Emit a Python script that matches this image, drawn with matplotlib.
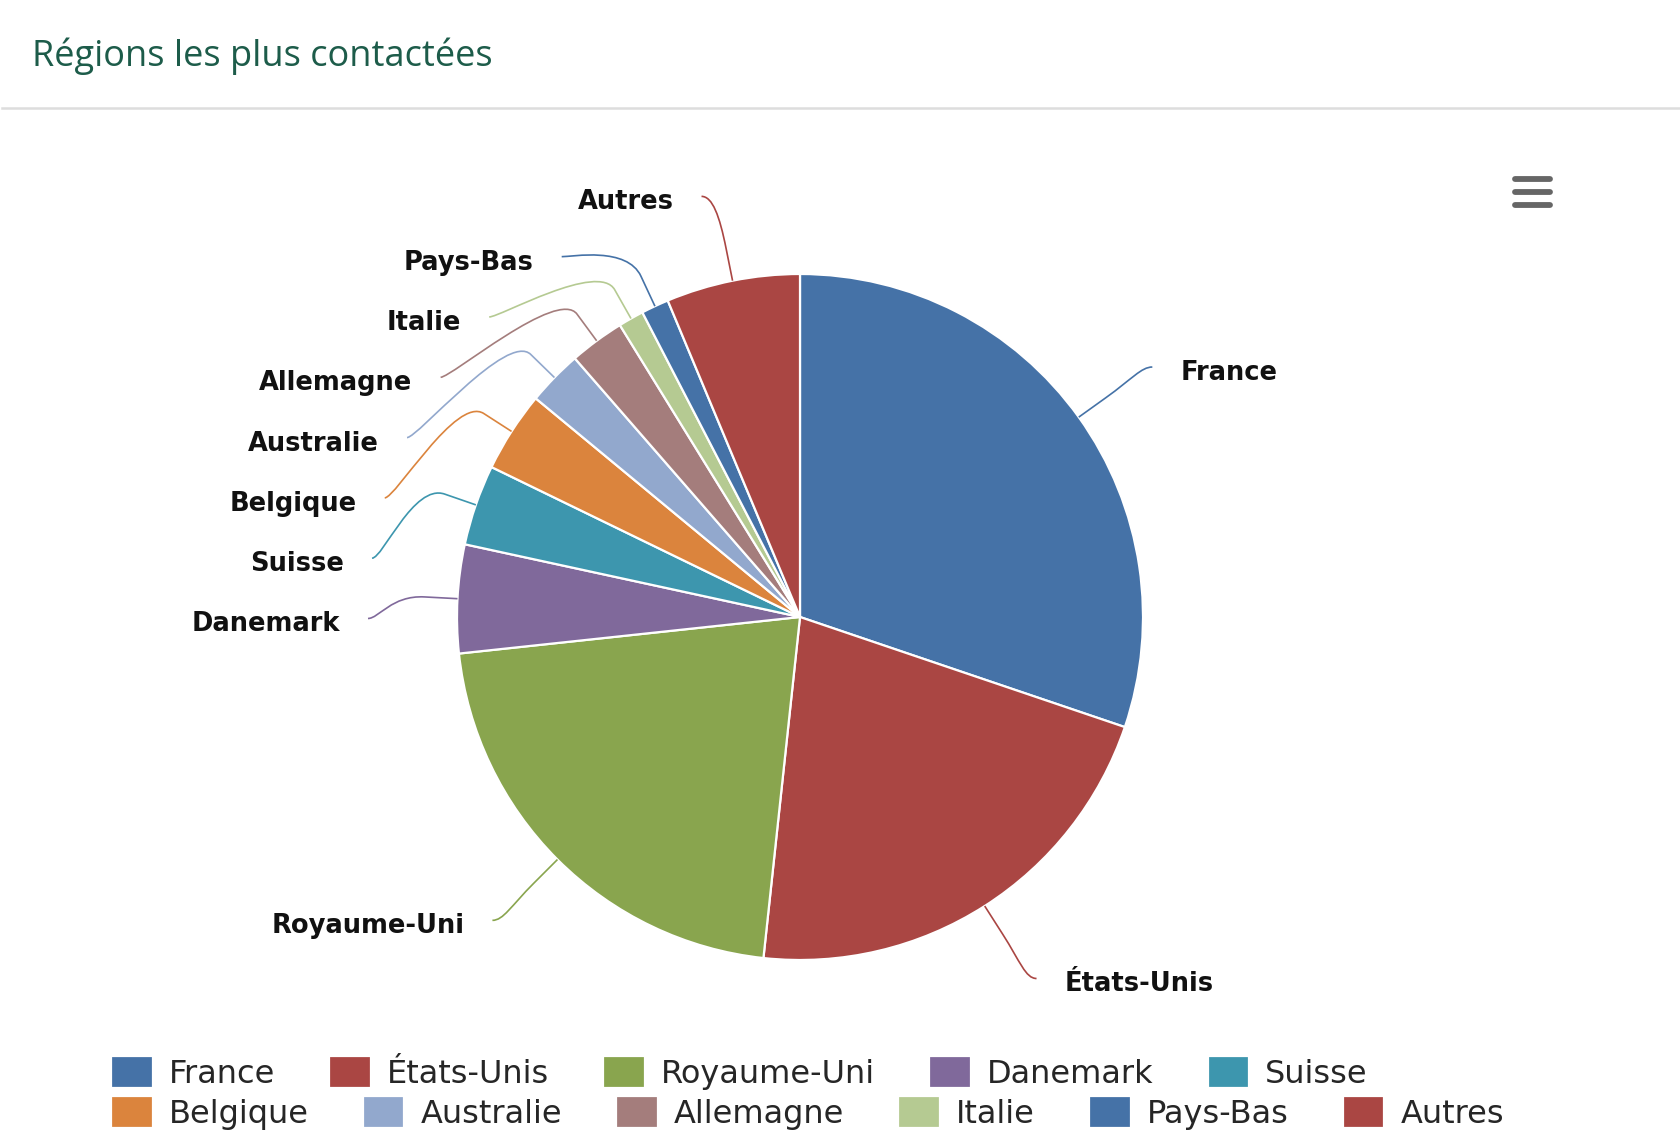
import numpy as np
import matplotlib.pyplot as plt
from matplotlib.path import Path
from matplotlib.patches import PathPatch

regions = ['France', 'États-Unis', 'Royaume-Uni', 'Danemark', 'Suisse', 'Belgique',
           'Australie', 'Allemagne', 'Italie', 'Pays-Bas', 'Autres']
shares = [30.2, 21.5, 21.6, 5.1, 3.8, 3.8, 2.6, 2.6, 1.2, 1.3, 6.3]
colors = ['#4572A7', '#AA4643', '#89A54E', '#80699B', '#3D96AE', '#DB843D',
          '#92A8CD', '#A47D7C', '#B5CA92', '#4572A7', '#AA4643']

W, H = 1680, 1147
fig = plt.figure(figsize=(W / 100, H / 100), dpi=100)
ax = fig.add_axes([0, 0, 1, 1])

# pixel-like data coords, y up
cx, cy, R = 800, H - 617, 343
wedges, _ = ax.pie(shares, colors=colors, startangle=90, counterclock=False,
                   center=(cx, cy), radius=R,
                   wedgeprops=dict(edgecolor='white', linewidth=1.6))
ax.set_xlim(0, W)
ax.set_ylim(0, H)
ax.set_aspect('equal')
ax.axis('off')

# labels with soft connectors (highcharts-like layout)
Rl = 432      # circle the label anchors sit on
Ry = 429      # radius used for the natural label height
brk = 33      # second break, just outside the pie
pad = 11
gap = 28
spacing = 60.3
items = []
for w, name, col in zip(wedges, regions, colors):
    mid = np.deg2rad((w.theta1 + w.theta2) / 2)
    left = np.cos(mid) < 0
    items.append(dict(name=name, col=col, mid=mid, left=left,
                      y=cy + np.sin(mid) * Ry))

for side in (True, False):
    grp = sorted([it for it in items if it['left'] == side], key=lambda d: -d['y'])
    prev = None
    for it in grp:
        if prev is not None and it['y'] > prev - spacing:
            it['y'] = prev - spacing
        prev = it['y']

for it in items:
    mid = it['mid']
    sgn = -1 if it['left'] else 1
    ex, ey = cx + R * np.cos(mid), cy + R * np.sin(mid)
    bx, by = cx + (R + brk) * np.cos(mid), cy + (R + brk) * np.sin(mid)
    dy = it['y'] - cy
    lx = cx + sgn * np.sqrt(max(Rl ** 2 - dy ** 2, 0))
    ly = it['y']
    verts = [(lx, ly), (lx - sgn * pad, ly), (2 * bx - ex, 2 * by - ey), (bx, by), (ex, ey)]
    codes = [Path.MOVETO, Path.CURVE4, Path.CURVE4, Path.CURVE4, Path.LINETO]
    ax.add_patch(PathPatch(Path(verts, codes), fill=False, edgecolor=it['col'], lw=1.2))
    ax.text(lx + sgn * gap, ly - 6, it['name'], ha='right' if it['left'] else 'left',
            va='center', fontsize=18.5, fontweight='bold', color='#111111')

# title and separator
fig.text(32 / W, 1 - 66 / H, 'Régions les plus contactées', family='Open Sans',
         fontsize=26, color='#1d5c4a', va='baseline', ha='left')
ax.plot([2, W], [H - 108, H - 108], color='#dddddd', lw=1.8)

# menu icon
for yy in (179, 192, 205):
    ax.plot([1515, 1550], [H - yy, H - yy], color='#666666', lw=4.2,
            solid_capstyle='round')

# legend in two rows
leg_kw = dict(frameon=False, fontsize=23, handlelength=1.3, handleheight=1.15,
              handletextpad=0.5, columnspacing=1.7, borderpad=0, borderaxespad=0,
              labelcolor='#262626', loc='center left')
leg1 = fig.legend(wedges[:5], regions[:5], ncol=5,
                  bbox_to_anchor=(111 / W, 1 - 1073 / H), **leg_kw)
leg2 = fig.legend(wedges[5:], regions[5:], ncol=6,
                  bbox_to_anchor=(111 / W, 1 - 1113 / H), **leg_kw)

fig.savefig('out.png', dpi=100, facecolor='white')
